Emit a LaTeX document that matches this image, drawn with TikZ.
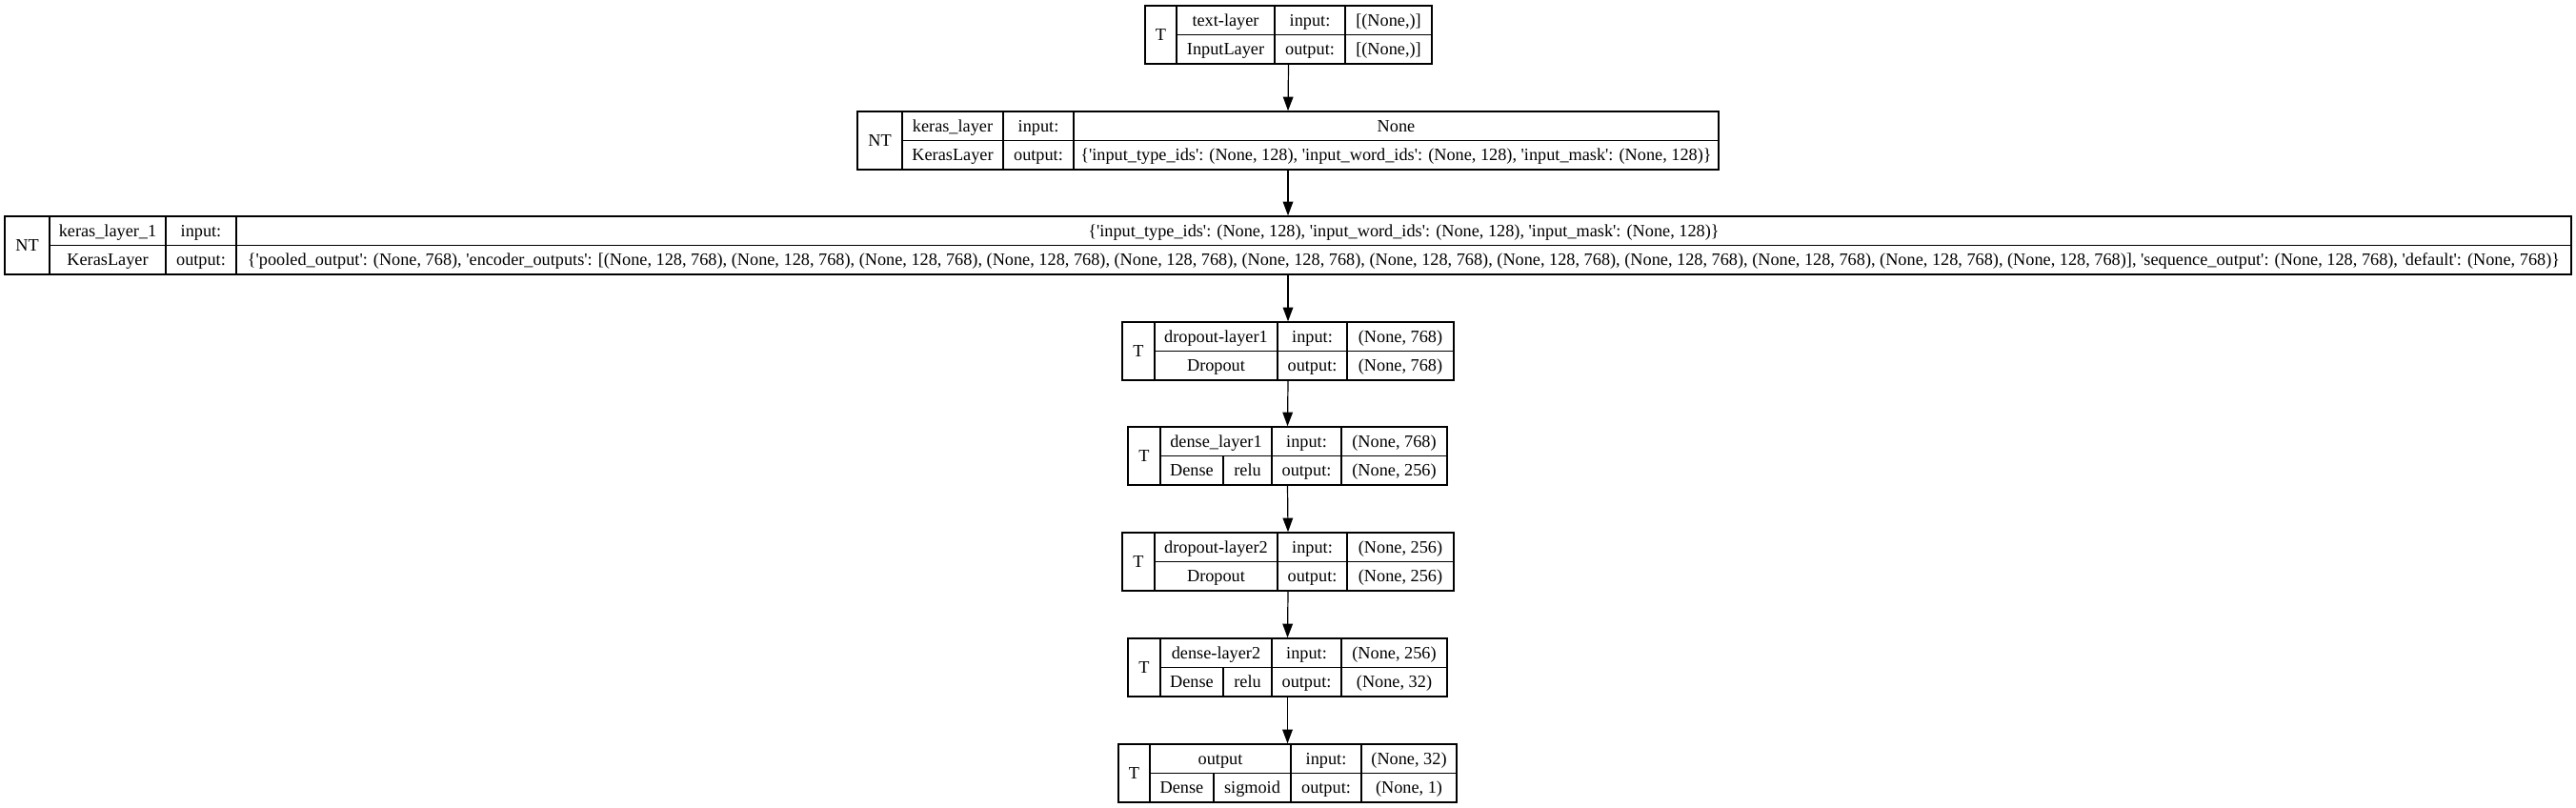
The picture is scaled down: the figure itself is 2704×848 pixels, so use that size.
\documentclass[tikz,border=0pt]{standalone}
\usepackage{fontspec}
\setmainfont[Ligatures=TeXOff]{Liberation Serif}
\usetikzlibrary{arrows.meta,fit}
\begin{document}
\begin{tikzpicture}[x=0.75pt,y=-0.75pt,
  line width=0.9pt,
  box/.style={draw,inner sep=0pt,line width=1.1pt},
  tx/.style={inner sep=0pt,anchor=base,font=\fontsize{13.7}{16}\selectfont},
  arr/.style={-{Triangle[length=11pt,width=8pt]},line width=0.9pt}]
\useasboundingbox (0,0) rectangle (2704,848);
% ---------- box 1
\node[box,fit={(1202,6)(1503,67)}] (b1) {};
\draw (1235,6) -- (1235,67) (1338,6) -- (1338,67) (1412,6) -- (1412,67) (1235,36.5) -- (1503,36.5);
\node[tx] (b1t) at (1218.5,42.5) {T};
\node[tx] (b1n) at (1286.5,27.25) {text-layer};
\node[tx] (b1c) at (1286.5,57.75) {InputLayer};
\node[tx] (b1i) at (1375,27.25) {input:};
\node[tx] (b1o) at (1375,57.75) {output:};
\node[tx] (b1iv) at (1457.5,27.25) {[(None,)]};
\node[tx] (b1ov) at (1457.5,57.75) {[(None,)]};
% ---------- box 2
\node[box,fit={(900,117)(1804,178)}] (b2) {};
\draw (947,117) -- (947,178) (1053,117) -- (1053,178) (1127,117) -- (1127,178) (947,147.5) -- (1804,147.5);
\node[tx] (b2t) at (923.5,153.5) {NT};
\node[tx] (b2n) at (1000,138.25) {keras\_layer};
\node[tx] (b2c) at (1000,168.75) {KerasLayer};
\node[tx] (b2i) at (1090,138.25) {input:};
\node[tx] (b2o) at (1090,168.75) {output:};
\node[tx] (b2iv) at (1465.5,138.25) {None};
\node[tx] (b2ov) at (1465.5,168.75) {\{'input\_type\_ids': (None, 128), 'input\_word\_ids': (None, 128), 'input\_mask': (None, 128)\}};
% ---------- box 3
\node[box,fit={(5,227)(2699,288)}] (b3) {};
\draw (52,227) -- (52,288) (174,227) -- (174,288) (248,227) -- (248,288) (52,257.5) -- (2699,257.5);
\node[tx] (b3t) at (28.5,263.5) {NT};
\node[tx] (b3n) at (113,248.25) {keras\_layer\_1};
\node[tx] (b3c) at (113,278.75) {KerasLayer};
\node[tx] (b3i) at (211,248.25) {input:};
\node[tx] (b3o) at (211,278.75) {output:};
\node[tx] (b3iv) at (1473.5,248.25) {\{'input\_type\_ids': (None, 128), 'input\_word\_ids': (None, 128), 'input\_mask': (None, 128)\}};
\node[tx] (b3ov) at (1473.5,278.75) {\{'pooled\_output': (None, 768), 'encoder\_outputs': [(None, 128, 768), (None, 128, 768), (None, 128, 768), (None, 128, 768), (None, 128, 768), (None, 128, 768), (None, 128, 768), (None, 128, 768), (None, 128, 768), (None, 128, 768), (None, 128, 768), (None, 128, 768)], 'sequence\_output': (None, 128, 768), 'default': (None, 768)\}};
% ---------- box 4
\node[box,fit={(1178,338)(1526,399)}] (b4) {};
\draw (1212,338) -- (1212,399) (1341,338) -- (1341,399) (1414,338) -- (1414,399) (1212,368.5) -- (1526,368.5);
\node[tx] (b4t) at (1195,374.5) {T};
\node[tx] (b4n) at (1276.5,359.25) {dropout-layer1};
\node[tx] (b4c) at (1276.5,389.75) {Dropout};
\node[tx] (b4i) at (1377.5,359.25) {input:};
\node[tx] (b4o) at (1377.5,389.75) {output:};
\node[tx] (b4iv) at (1470,359.25) {(None, 768)};
\node[tx] (b4ov) at (1470,389.75) {(None, 768)};
% ---------- box 5
\node[box,fit={(1184,448)(1519,509)}] (b5) {};
\draw (1218,448) -- (1218,509) (1335,448) -- (1335,509) (1408,448) -- (1408,509) (1218,478.5) -- (1519,478.5) (1284,478.5) -- (1284,509);
\node[tx] (b5t) at (1201,484.5) {T};
\node[tx] (b5n) at (1276.5,469.25) {dense\_layer1};
\node[tx] (b5c) at (1251,499.75) {Dense};
\node[tx] (b5a) at (1309.5,499.75) {relu};
\node[tx] (b5i) at (1371.5,469.25) {input:};
\node[tx] (b5o) at (1371.5,499.75) {output:};
\node[tx] (b5iv) at (1463.5,469.25) {(None, 768)};
\node[tx] (b5ov) at (1463.5,499.75) {(None, 256)};
% ---------- box 6
\node[box,fit={(1178,559)(1526,620)}] (b6) {};
\draw (1212,559) -- (1212,620) (1341,559) -- (1341,620) (1414,559) -- (1414,620) (1212,589.5) -- (1526,589.5);
\node[tx] (b6t) at (1195,595.5) {T};
\node[tx] (b6n) at (1276.5,580.25) {dropout-layer2};
\node[tx] (b6c) at (1276.5,610.75) {Dropout};
\node[tx] (b6i) at (1377.5,580.25) {input:};
\node[tx] (b6o) at (1377.5,610.75) {output:};
\node[tx] (b6iv) at (1470,580.25) {(None, 256)};
\node[tx] (b6ov) at (1470,610.75) {(None, 256)};
% ---------- box 7
\node[box,fit={(1184,670)(1519,731)}] (b7) {};
\draw (1218,670) -- (1218,731) (1335,670) -- (1335,731) (1408,670) -- (1408,731) (1218,700.5) -- (1519,700.5) (1284,700.5) -- (1284,731);
\node[tx] (b7t) at (1201,706.5) {T};
\node[tx] (b7n) at (1276.5,691.25) {dense-layer2};
\node[tx] (b7c) at (1251,721.75) {Dense};
\node[tx] (b7a) at (1309.5,721.75) {relu};
\node[tx] (b7i) at (1371.5,691.25) {input:};
\node[tx] (b7o) at (1371.5,721.75) {output:};
\node[tx] (b7iv) at (1463.5,691.25) {(None, 256)};
\node[tx] (b7ov) at (1463.5,721.75) {(None, 32)};
% ---------- box 8
\node[box,fit={(1174,781)(1529,842)}] (b8) {};
\draw (1207,781) -- (1207,842) (1355,781) -- (1355,842) (1429,781) -- (1429,842) (1207,811.5) -- (1529,811.5) (1274,811.5) -- (1274,842);
\node[tx] (b8t) at (1190.5,817.5) {T};
\node[tx] (b8n) at (1281,802.25) {output};
\node[tx] (b8c) at (1240.5,832.75) {Dense};
\node[tx] (b8a) at (1314.5,832.75) {sigmoid};
\node[tx] (b8i) at (1392,802.25) {input:};
\node[tx] (b8o) at (1392,832.75) {output:};
\node[tx] (b8iv) at (1479,802.25) {(None, 32)};
\node[tx] (b8ov) at (1479,832.75) {(None, 1)};
% ---------- connectors
\draw[arr] (b1.south) -- (b2.north);
\draw[arr] (b2.south) -- (b3.north);
\draw[arr] (b3.south) -- (b4.north);
\draw[arr] (b4.south) -- (b5.north);
\draw[arr] (b5.south) -- (b6.north);
\draw[arr] (b6.south) -- (b7.north);
\draw[arr] (b7.south) -- (b8.north);
\end{tikzpicture}
\end{document}
